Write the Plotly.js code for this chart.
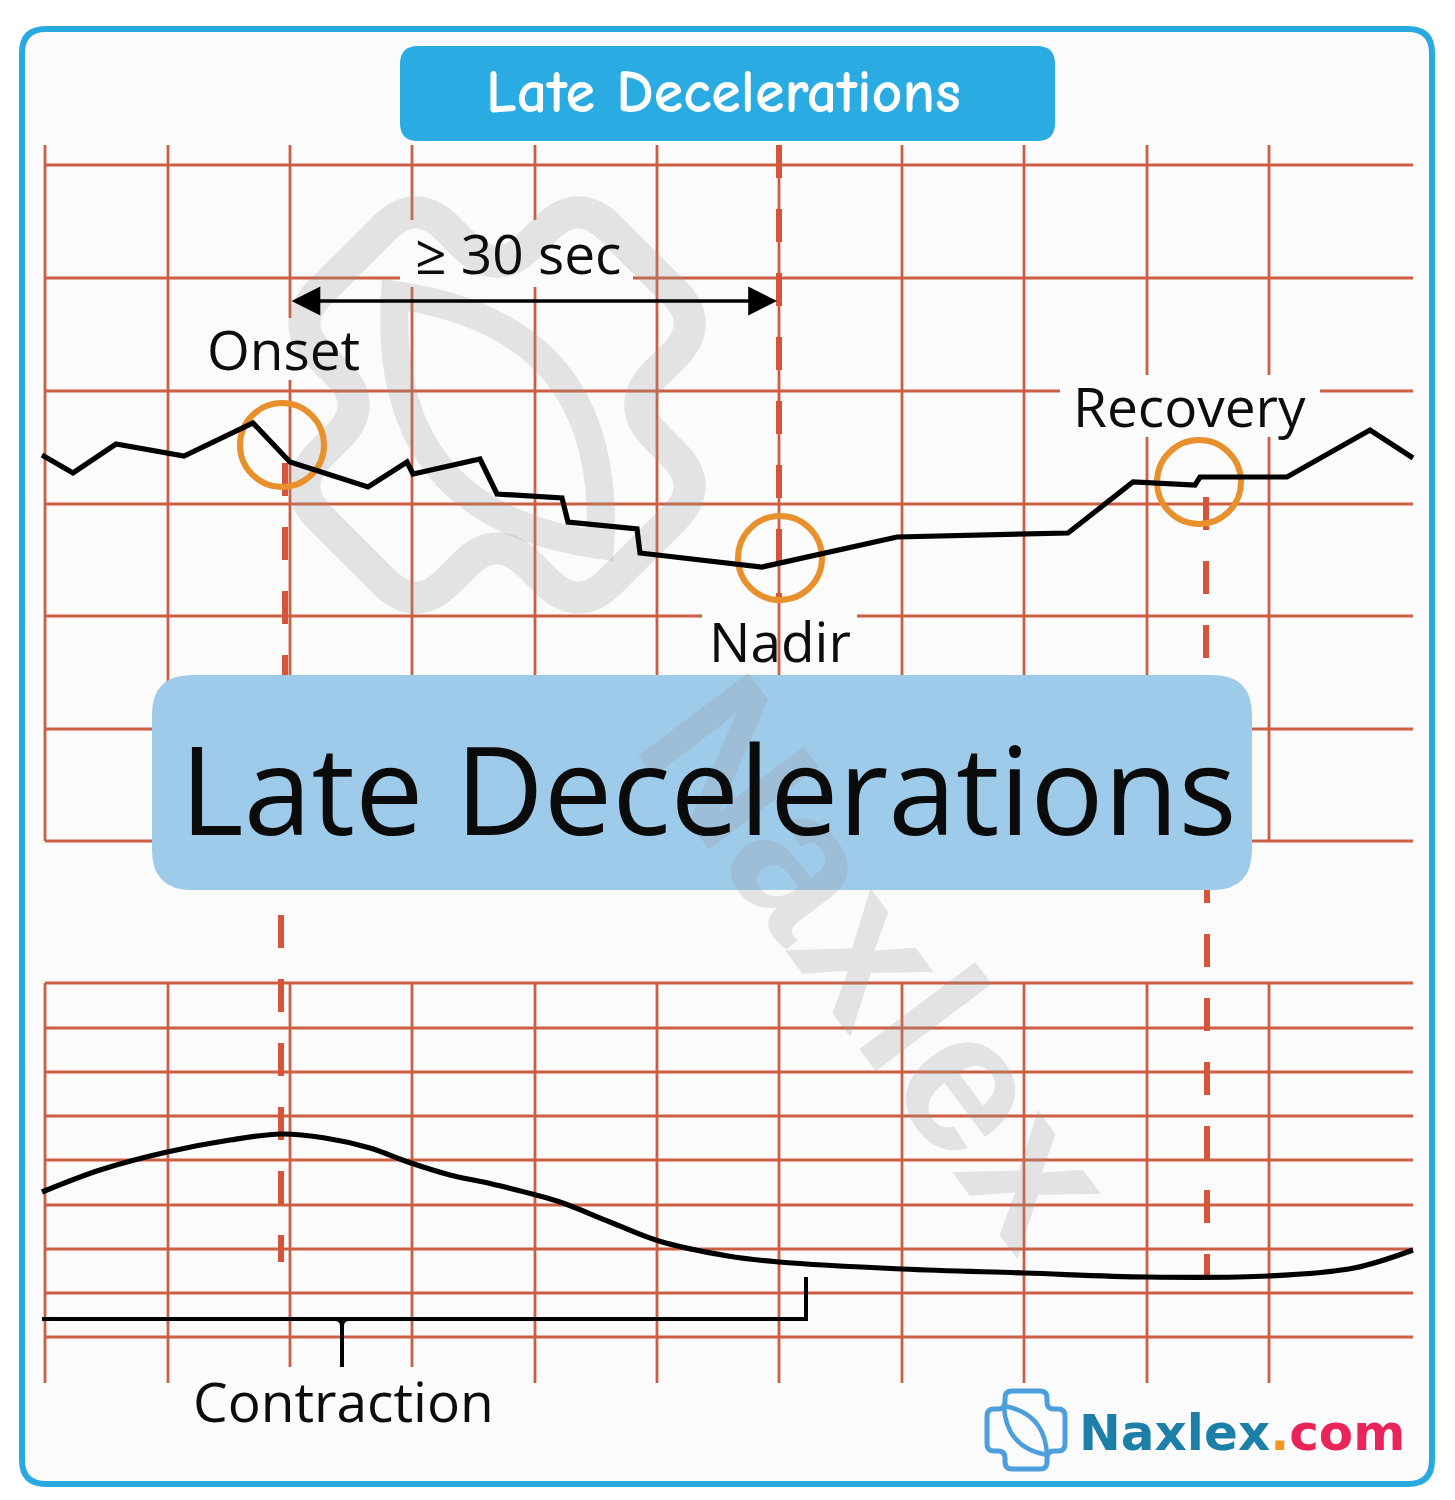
<!DOCTYPE html>
<html><head><meta charset="utf-8">
<script src="https://cdn.plot.ly/plotly-3.0.1.min.js"></script>
<style>html,body{margin:0;padding:0;background:#fff}#chart{width:1455px;height:1500px}</style>
</head><body><div id="chart"></div>
<script>
// ---------------- data ----------------
const fhrTime  = [42, 73, 116, 184, 253, 290, 368, 407, 413, 480, 497, 562, 568, 637, 640, 733, 762, 897, 1068, 1133, 1195, 1200, 1287, 1370, 1413];
const fhrLevel = [455, 473, 444, 456, 423, 462, 487, 462, 474, 459, 494, 498, 522, 529, 553, 564, 567, 537, 533, 482, 485, 477, 477, 430, 458];
const uaTime  = [42, 100, 167, 230, 281, 325, 370, 408, 450, 492, 557, 610, 659, 728, 779, 902, 1025, 1147, 1269, 1354, 1413];
const uaLevel = [1192, 1170, 1152, 1140, 1134, 1138, 1148, 1162, 1175, 1184, 1201, 1222, 1241, 1256, 1262, 1269, 1273, 1277, 1276, 1268, 1250];
const markerNames = ['Onset', 'Nadir', 'Recovery'];
const markerTime  = [282, 780, 1199];
const markerLevel = [445, 558, 482];
const titleText = 'Late Decelerations';
const bannerText = 'Late Decelerations';
const intervalLabel = '\u2265 30 sec';
const contractionLabel = 'Contraction';
const gridColumns = [45, 168, 290, 412, 535, 657, 779, 902, 1024, 1147, 1269];
const topGridRows = [165, 278, 391, 504, 616, 729, 841];
const bottomGridRows = [983, 1028, 1072, 1116, 1160, 1205, 1249, 1293, 1337];

// ---------------- geometry / styling ----------------
const GRID = '#cc5f43';
const DASH = '#d4553a';
const ORANGE = '#e8902c';
const labelPos = {Onset: [283, 348], Nadir: [780, 640], Recovery: [1189, 405]};
const topColGaps = {290: [[318, 380]], 412: [[220, 287]], 535: [[220, 287]], 1147: [[375, 437]], 1269: [[375, 437]]};
const topRowGaps = {278: [[400, 633]], 391: [[1060, 1320]], 616: [[702, 857]]};

function segs(a, b, gaps) {
  const out = []; let s = a;
  (gaps || []).forEach(g => { out.push([s, g[0]]); s = g[1]; });
  out.push([s, b]); return out;
}
function roundRect(x0, y0, x1, y1, r) {
  return `M${x0+r},${y0} L${x1-r},${y0} Q${x1},${y0} ${x1},${y0+r} L${x1},${y1-r} Q${x1},${y1} ${x1-r},${y1} L${x0+r},${y1} Q${x0},${y1} ${x0},${y1-r} L${x0},${y0+r} Q${x0},${y0} ${x0+r},${y0} Z`;
}
function plusOutline(cx, cy, L, W, r, deg) {
  const a = deg * Math.PI / 180, c = Math.cos(a), s = Math.sin(a);
  const pts = [[-W,-L],[W,-L],[W,-W],[L,-W],[L,W],[W,W],[W,L],[-W,L],[-W,W],[-L,W],[-L,-W],[-W,-W]];
  const T = p => [(cx + p[0]*c - p[1]*s).toFixed(1), (cy + p[0]*s + p[1]*c).toFixed(1)].join(',');
  const n = pts.length; let d = '';
  for (let i = 0; i < n; i++) {
    const P = pts[(i-1+n)%n], V = pts[i], N = pts[(i+1)%n];
    const u = (A) => { const dx = A[0]-V[0], dy = A[1]-V[1], l = Math.hypot(dx, dy); return [V[0]+dx/l*r, V[1]+dy/l*r]; };
    d += (i === 0 ? 'M' : 'L') + T(u(P)) + ' Q' + T(V) + ' ' + T(u(N)) + ' ';
  }
  return d + 'Z';
}
function lens(x1, y1, x2, y2, b) {
  const mx = (x1+x2)/2, my = (y1+y2)/2, dx = x2-x1, dy = y2-y1, l = Math.hypot(dx, dy);
  const px = -dy/l*b, py = dx/l*b;
  return `M${x1},${y1} Q${mx+px},${my+py} ${x2},${y2} Q${mx-px},${my-py} ${x1},${y1} Z`;
}

const shapes = [];
// outer card
shapes.push({type: 'path', path: roundRect(22, 29, 1432, 1484, 24), fillcolor: '#fbfbfb', line: {color: '#2aa8e0', width: 6}, layer: 'below'});
// top grid
gridColumns.forEach(x => segs(145, 841, topColGaps[x]).forEach(s =>
  shapes.push({type: 'line', x0: x, x1: x, y0: s[0], y1: s[1], line: {color: GRID, width: 2.8}, layer: 'below'})));
topGridRows.forEach(y => segs(45, 1413, topRowGaps[y]).forEach(s =>
  shapes.push({type: 'line', x0: s[0], x1: s[1], y0: y, y1: y, line: {color: GRID, width: 2.8}, layer: 'below'})));
// bottom grid
gridColumns.forEach(x => shapes.push({type: 'line', x0: x, x1: x, y0: 983, y1: (x === 290 || x === 412) ? 1367 : 1383, line: {color: GRID, width: 2.8}, layer: 'below'}));
bottomGridRows.forEach(y => shapes.push({type: 'line', x0: 45, x1: 1413, y0: y, y1: y, line: {color: GRID, width: 2.8}, layer: 'below'}));
// thick dashed guides
[[779, 145, 600], [285, 463, 680], [281, 915, 1262], [1206, 497, 680], [1207, 870, 1277]].forEach(d =>
  shapes.push({type: 'line', x0: d[0], x1: d[0], y0: d[1], y1: d[2], line: {color: DASH, width: 6, dash: '33px,31px'}, layer: 'below'}));
// banner box
shapes.push({type: 'path', path: roundRect(152, 675, 1252, 890, 40), fillcolor: '#9fcbea', line: {width: 0}, layer: 'below'});
// watermark logo
const WM = 'rgba(150,150,150,0.24)';
shapes.push({type: 'path', path: plusOutline(497, 405, 205, 90, 45, 45), line: {color: WM, width: 32}, layer: 'below'});
shapes.push({type: 'path', path: lens(395, 295, 600, 545, 150), line: {color: WM, width: 28}, layer: 'below'});
// title box
shapes.push({type: 'path', path: roundRect(400, 46, 1055, 141, 18), fillcolor: '#2aabe2', line: {width: 0}, layer: 'below'});
// orange circles at markers
markerTime.forEach((t, i) => shapes.push({type: 'circle', x0: t-42, x1: t+42, y0: markerLevel[i]-42, y1: markerLevel[i]+42, line: {color: ORANGE, width: 6}, layer: 'below'}));
// contraction bracket
shapes.push({type: 'path', path: 'M42,1319 L806,1319 L806,1277', line: {color: '#000', width: 4}, layer: 'above'});
shapes.push({type: 'path', path: 'M336,1319 Q342,1320 342,1326 L342,1367 M348,1319 Q342,1320 342,1326', line: {color: '#000', width: 4}, layer: 'above'});
// bottom logo icon
shapes.push({type: 'path', path: plusOutline(1026, 1430, 39, 21, 7, 0), line: {color: '#4c9fdb', width: 5}, layer: 'above'});
shapes.push({type: 'path', path: lens(1004, 1406, 1047, 1455, 26), line: {color: '#4c9fdb', width: 4.5}, layer: 'above'});

const traces = [
  {x: fhrTime, y: fhrLevel, type: 'scatter', mode: 'lines', line: {color: '#000', width: 5.2}, cliponaxis: false, hoverinfo: 'skip'},
  {x: uaTime, y: uaLevel, type: 'scatter', mode: 'lines', line: {color: '#000', width: 5.2, shape: 'spline', smoothing: 1}, cliponaxis: false, hoverinfo: 'skip'}
];

const LF = {family: 'Open Sans, Noto Sans, sans-serif', size: 55, color: '#0d0d0d'};
const annotations = [
  {x: 880, y: 960, text: '<b>Naxlex</b>', showarrow: false, textangle: 53, font: {family: 'Liberation Sans, Arial, sans-serif', size: 200, color: 'rgba(150,150,150,0.24)'}},
  {x: 723, y: 92, text: titleText, showarrow: false, font: {family: 'Comic Sans MS, Comic Neue, Lato, sans-serif', size: 60, color: '#ffffff', weight: 'bold'}},
  {x: 518, y: 252, text: intervalLabel, showarrow: false, font: LF},
  {x: 777, y: 301, ax: 290, ay: 301, axref: 'x', ayref: 'y', xref: 'x', yref: 'y', text: '', showarrow: true, arrowside: 'end+start', arrowhead: 2, arrowsize: 1.6, arrowwidth: 3.6, arrowcolor: '#000', standoff: 0, startstandoff: 0},
  {x: 708, y: 788, text: bannerText, showarrow: false, font: {family: 'Open Sans, Noto Sans, sans-serif', size: 122, color: '#0b0b0b'}},
  {x: 343, y: 1400, text: contractionLabel, showarrow: false, font: LF},
  {x: 1077, y: 1433, xanchor: 'left', text: '<span style="color:#1b7fa7">Naxlex</span><span style="color:#f7941d">.</span><span style="color:#e8245b">com</span>', showarrow: false, font: {family: 'DejaVu Sans, sans-serif', size: 50, weight: 'bold'}}
];
markerNames.forEach(n => annotations.push({x: labelPos[n][0], y: labelPos[n][1], text: n, showarrow: false, font: LF}));

const layout = {
  width: 1455, height: 1500, margin: {l: 0, r: 0, t: 0, b: 0, pad: 0},
  paper_bgcolor: '#ffffff', plot_bgcolor: '#ffffff', showlegend: false,
  xaxis: {range: [0, 1455], visible: false, fixedrange: true},
  yaxis: {range: [1500, 0], visible: false, fixedrange: true},
  shapes: shapes, annotations: annotations
};
Plotly.newPlot('chart', traces, layout, {staticPlot: true, displayModeBar: false});
</script></body></html>
